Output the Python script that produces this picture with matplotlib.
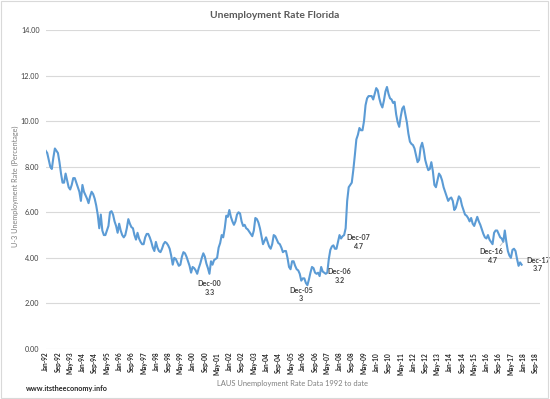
import matplotlib
matplotlib.use('Agg')
import matplotlib.pyplot as plt
from matplotlib.patches import Rectangle
import numpy as np
import pandas as pd

# Florida U-3 unemployment rate, monthly, not seasonally adjusted (Jan-92 .. Dec-17)
rate = [
    8.7, 8.6, 8.3, 8.0, 7.9, 8.4, 8.8, 8.7, 8.6, 8.2, 7.7, 7.3,          # 1992
    7.3, 7.7, 7.4, 7.1, 7.0, 7.2, 7.5, 7.5, 7.3, 7.1, 6.9, 6.5,          # 1993
    7.2, 6.9, 6.75, 6.6, 6.4, 6.7, 6.9, 6.8, 6.6, 6.3, 5.9, 5.3,         # 1994
    5.9, 5.2, 5.0, 5.0, 5.2, 5.4, 6.0, 6.05, 5.9, 5.6, 5.4, 5.1,         # 1995
    5.5, 5.2, 5.0, 4.9, 5.0, 5.3, 5.7, 5.5, 5.35, 5.3, 5.0, 4.8,         # 1996
    5.1, 4.85, 4.7, 4.6, 4.6, 4.9, 5.05, 5.05, 4.9, 4.7, 4.45, 4.3,      # 1997
    4.7, 4.45, 4.3, 4.25, 4.4, 4.6, 4.7, 4.65, 4.55, 4.4, 4.1, 3.7,      # 1998
    4.0, 3.95, 3.8, 3.65, 3.7, 4.05, 4.25, 4.2, 4.05, 3.85, 3.65, 3.35,  # 1999
    3.6, 3.55, 3.45, 3.3, 3.55, 3.75, 4.0, 4.2, 4.05, 3.75, 3.55, 3.3,   # 2000
    3.85, 3.7, 3.9, 3.95, 4.0, 4.45, 4.65, 5.0, 4.9, 5.3, 5.85, 5.8,     # 2001
    6.1, 5.8, 5.6, 5.45, 5.6, 5.9, 6.0, 5.95, 5.6, 5.4, 5.45, 5.3,       # 2002
    5.25, 5.15, 5.05, 4.95, 5.2, 5.75, 5.7, 5.55, 5.3, 4.95, 4.6, 4.75,  # 2003
    4.9, 4.7, 4.5, 4.4, 4.6, 5.0, 4.95, 4.8, 4.65, 4.6, 4.45, 4.25,      # 2004
    4.3, 4.3, 4.0, 3.6, 3.5, 3.85, 3.85, 3.65, 3.5, 3.45, 3.3, 3.0,      # 2005
    3.1, 3.1, 2.9, 2.8, 3.05, 3.35, 3.6, 3.55, 3.35, 3.3, 3.35, 3.2,     # 2006
    3.6, 3.4, 3.35, 3.3, 3.35, 3.95, 4.35, 4.5, 4.55, 4.4, 4.4, 4.7,     # 2007
    5.0, 4.85, 4.95, 5.0, 5.3, 6.5, 7.1, 7.2, 7.3, 7.85, 8.5, 9.2,       # 2008
    9.4, 9.7, 9.6, 9.6, 10.0, 10.7, 11.0, 11.1, 11.1, 11.1, 10.95, 11.2, # 2009
    11.45, 11.35, 11.0, 10.75, 10.6, 10.9, 11.3, 11.5, 11.2, 11.0, 10.95, 10.8,  # 2010
    10.85, 10.3, 9.95, 9.75, 10.2, 10.55, 10.65, 10.3, 9.95, 9.45, 9.1, 9.0,    # 2011
    8.95, 8.8, 8.5, 8.2, 8.3, 8.85, 9.05, 8.75, 8.3, 8.05, 7.85, 7.9,    # 2012
    8.2, 7.8, 7.2, 7.1, 7.4, 7.7, 7.6, 7.4, 7.1, 6.9, 6.7, 6.5,          # 2013
    6.6, 6.65, 6.5, 6.1, 6.2, 6.45, 6.7, 6.6, 6.3, 6.1, 5.9, 5.85,       # 2014
    5.75, 5.6, 5.75, 5.5, 5.4, 5.6, 5.8, 5.6, 5.45, 5.25, 5.05, 4.9,     # 2015
    4.85, 5.0, 4.8, 4.7, 4.6, 5.1, 5.2, 5.2, 5.05, 4.9, 4.85, 4.7,       # 2016
    5.2, 4.7, 4.3, 4.1, 4.0, 4.35, 4.4, 4.3, 3.95, 3.65, 3.8, 3.7,       # 2017
]

# category axis runs Jan-92 .. Dec-18 (2018 rows are still empty)
months = pd.date_range('1992-01-01', '2018-12-01', freq='MS')
tick_step = 8

# labelled points: (month, label)
notes = ['2000-12', '2005-12', '2006-12', '2007-12', '2016-12', '2017-12']
note_pos = ['below', 'below', 'right', 'right', 'below-left', 'right']

blue = '#5B9BD5'
grid_c = '#D9D9D9'
txt_c = '#404040'

fig = plt.figure(figsize=(5.5, 3.99), dpi=100)
ax = fig.add_axes([45.7 / 550, 1 - 349 / 399, (540 - 45.7) / 550, (349 - 30) / 399])

x = np.arange(len(rate))
ax.plot(x, rate, color=blue, lw=1.5, solid_joinstyle='round', zorder=3)

ax.set_xlim(0, len(months) - 1)
ax.set_ylim(0, 14)
ax.set_yticks(np.arange(0, 14.01, 2))
ax.set_yticklabels([f'{v:.2f}' for v in np.arange(0, 14.01, 2)],
                   fontsize=5.2, color=txt_c, family='Lato')
ticks = np.arange(0, len(months), tick_step)
ax.set_xticks(ticks)
ax.set_xticklabels([months[i].strftime('%b-%y') for i in ticks], rotation=90,
                   fontsize=4.7, fontweight='bold', color='#262626', family='Lato')
ax.tick_params(length=0)
ax.tick_params(axis='y', pad=4.4)
ax.tick_params(axis='x', pad=2)
ax.grid(axis='y', color=grid_c, lw=0.8)
ax.set_axisbelow(True)
for s in ax.spines.values():
    s.set_visible(False)

offsets = {'below': (0, -10.2, 'center'), 'right': (5.8, 0, 'left'),
           'below-left': (-8.3, -10.2, 'center')}
for m, where in zip(notes, note_pos):
    i = months.get_loc(pd.Timestamp(m + '-01'))
    v = rate[i]
    dx, dy, ha = offsets[where]
    if m == '2017-12':
        dx = 3.2
    lbl = f"{months[i].strftime('%b-%y')}\n{v:g}"
    arrow = None
    if where == 'below-left':
        arrow = dict(arrowstyle='-', color='#BFBFBF', lw=0.6, shrinkA=0, shrinkB=0)
    ax.annotate(lbl, (i, v), xytext=(dx, dy), textcoords='offset points',
                ha=ha, va='center', multialignment='center', fontsize=5.1,
                fontweight='bold', color=txt_c, family='Lato', linespacing=1.2,
                arrowprops=arrow, zorder=4)

fig.text(0.5, 1 - 15 / 399, 'Unemployment Rate Florida', ha='center', va='center',
         fontsize=7.4, fontweight='bold', color='#595959', family='Lato')
fig.text(15 / 550, 1 - 186 / 399, 'U-3 Unemployment Rate (Percentage)', rotation=90,
         ha='center', va='center', fontsize=5.2, color='#7F7F7F', family='Lato')
fig.text(293 / 550, 1 - 383.5 / 399, 'LAUS Unemployment Rate Data 1992 to date',
         ha='center', va='center', fontsize=5.4, color='#7F7F7F', family='Lato')
fig.text(26 / 550, 1 - 388 / 399, 'www.itstheeconomy.info', ha='left', va='center',
         fontsize=5.2, fontweight='bold', color='#262626', family='Lato')

fig.patches.append(Rectangle((0.002, 0.003), 0.995, 0.994, transform=fig.transFigure,
                             fill=False, edgecolor='#D9D9D9', lw=0.8))

fig.savefig('out.png', dpi=100, facecolor='white')
